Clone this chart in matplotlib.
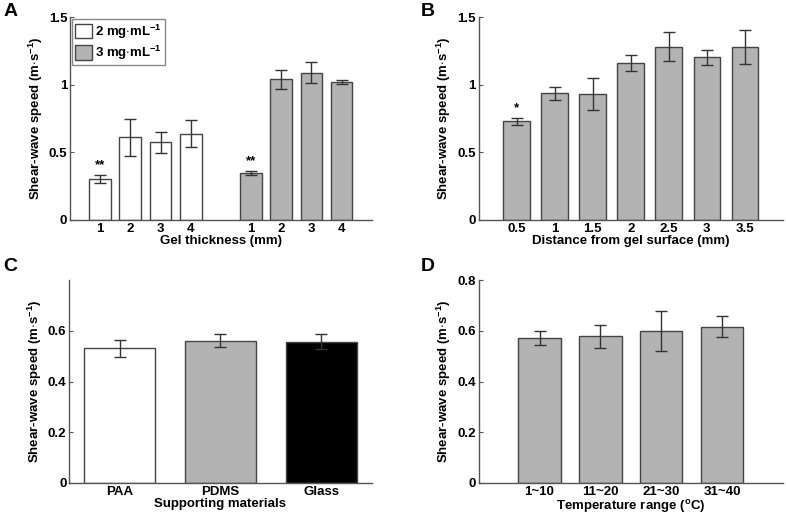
import matplotlib.pyplot as plt

plt.rcParams['font.family'] = ['Liberation Sans', 'DejaVu Sans']
plt.rcParams['font.weight'] = 'bold'
plt.rcParams['axes.labelweight'] = 'bold'
plt.rcParams['mathtext.default'] = 'bf'
plt.rcParams['mathtext.fontset'] = 'custom'
plt.rcParams['mathtext.bf'] = 'Liberation Sans:bold'
plt.rcParams['mathtext.rm'] = 'Liberation Sans:bold'

# Panel A - gel thickness
a_labels = ['1', '2', '3', '4', '1', '2', '3', '4']
a_pos = [1, 2, 3, 4, 6, 7, 8, 9]
a_2mg = [0.30, 0.61, 0.573, 0.637]
a_2mg_err = [0.03, 0.135, 0.08, 0.10]
a_3mg = [0.347, 1.038, 1.089, 1.018]
a_3mg_err = [0.012, 0.072, 0.075, 0.015]

# Panel B - distance from surface
b_labels = ['0.5', '1', '1.5', '2', '2.5', '3', '3.5']
b_vals = [0.728, 0.937, 0.932, 1.158, 1.279, 1.202, 1.279]
b_err = [0.026, 0.048, 0.12, 0.059, 0.107, 0.056, 0.123]

# Panel C - supporting materials
c_labels = ['PAA', 'PDMS', 'Glass']
c_vals = [0.531, 0.562, 0.557]
c_err = [0.033, 0.024, 0.029]
c_colors = ['white', '#b3b3b3', 'black']

# Panel D - temperature range
d_labels = ['1~10', '11~20', '21~30', '31~40']
d_vals = [0.573, 0.578, 0.599, 0.616]
d_err = [0.027, 0.045, 0.079, 0.041]

GREY = '#b3b3b3'
EDGE = '#444444'
ERR = '#333333'
FS = 9.5
YLAB = 'Shear-wave speed (m$\\cdot$s$^{-1}$)'

fig = plt.figure(figsize=(7.86, 5.16), dpi=100)
axA = fig.add_axes([0.089, 0.574, 0.384, 0.393])
axB = fig.add_axes([0.609, 0.574, 0.387, 0.393])
axC = fig.add_axes([0.088, 0.064, 0.385, 0.393])
axD = fig.add_axes([0.609, 0.064, 0.387, 0.393])


def style(ax):
    for s in ['top', 'right']:
        ax.spines[s].set_visible(False)
    for s in ['left', 'bottom']:
        ax.spines[s].set_color('#555555')
        ax.spines[s].set_linewidth(1.0)
    ax.tick_params(axis='y', direction='in', length=3, color='#555555', labelsize=FS, pad=2)
    ax.tick_params(axis='x', length=0, labelsize=FS, pad=2)
    ax.set_ylabel(YLAB, fontsize=FS, labelpad=3)


ekw = dict(ecolor=ERR, capsize=4, elinewidth=1.0, capthick=1.0)

# A
axA.bar(a_pos[:4], a_2mg, 0.72, yerr=a_2mg_err, color='white',
        edgecolor=EDGE, linewidth=1.0, error_kw=ekw, label='2 mg$\\cdot$mL$^{-1}$')
axA.bar(a_pos[4:], a_3mg, 0.72, yerr=a_3mg_err, color=GREY,
        edgecolor=EDGE, linewidth=1.0, error_kw=ekw, label='3 mg$\\cdot$mL$^{-1}$')
axA.text(a_pos[0], a_2mg[0] + a_2mg_err[0] + 0.03, '**', ha='center', va='bottom', fontsize=FS)
axA.text(a_pos[4], a_3mg[0] + a_3mg_err[0] + 0.03, '**', ha='center', va='bottom', fontsize=FS)
axA.set_xlim(0, 10)
axA.set_ylim(0, 1.5)
axA.set_yticks([0, 0.5, 1, 1.5])
axA.set_yticklabels(['0', '0.5', '1', '1.5'])
axA.set_xticks(a_pos)
axA.set_xticklabels(a_labels)
axA.set_xlabel('Gel thickness (mm)', fontsize=FS, labelpad=0)
style(axA)
leg = axA.legend(loc='upper left', fontsize=FS, frameon=True, fancybox=False,
                 edgecolor='#888888', framealpha=1, borderaxespad=0.15,
                 handlelength=1.3, handleheight=1.3, handletextpad=0.2,
                 labelspacing=0.25, borderpad=0.25)
leg.get_frame().set_linewidth(1.0)

# B
b_pos = list(range(1, len(b_vals) + 1))
axB.bar(b_pos, b_vals, 0.7, yerr=b_err, color=GREY, edgecolor=EDGE,
        linewidth=1.0, error_kw=ekw)
axB.text(b_pos[0], b_vals[0] + b_err[0] + 0.03, '*', ha='center', va='bottom', fontsize=FS)
axB.set_xlim(0, 8)
axB.set_ylim(0, 1.5)
axB.set_yticks([0, 0.5, 1, 1.5])
axB.set_yticklabels(['0', '0.5', '1', '1.5'])
axB.set_xticks(b_pos)
axB.set_xticklabels(b_labels)
axB.set_xlabel('Distance from gel surface (mm)', fontsize=FS, labelpad=0)
style(axB)

# C
c_pos = list(range(1, len(c_vals) + 1))
axC.bar(c_pos, c_vals, 0.7, yerr=c_err, color=c_colors, edgecolor=EDGE,
        linewidth=1.0, error_kw=ekw)
axC.set_xlim(0.5, 3.5)
axC.set_ylim(0, 0.8)
axC.set_yticks([0, 0.2, 0.4, 0.6])
axC.set_yticklabels(['0', '0.2', '0.4', '0.6'])
axC.set_xticks(c_pos)
axC.set_xticklabels(c_labels)
axC.set_xlabel('Supporting materials', fontsize=FS, labelpad=0)
style(axC)

# D
d_pos = list(range(1, len(d_vals) + 1))
axD.bar(d_pos, d_vals, 0.7, yerr=d_err, color=GREY, edgecolor=EDGE,
        linewidth=1.0, error_kw=ekw)
axD.set_xlim(0, 5)
axD.set_ylim(0, 0.8)
axD.set_yticks([0, 0.2, 0.4, 0.6, 0.8])
axD.set_yticklabels(['0', '0.2', '0.4', '0.6', '0.8'])
axD.set_xticks(d_pos)
axD.set_xticklabels(d_labels)
axD.set_xlabel('Temperature range ($^{\\mathrm{o}}$C)', fontsize=FS, labelpad=0)
style(axD)

# panel letters
for lab, x, y in [('A', 0.004, 0.977), ('B', 0.535, 0.977), ('C', 0.004, 0.484), ('D', 0.535, 0.484)]:
    fig.text(x, y, lab, fontsize=14, fontweight='bold', va='center', ha='left')

fig.savefig('out.png', dpi=100)
